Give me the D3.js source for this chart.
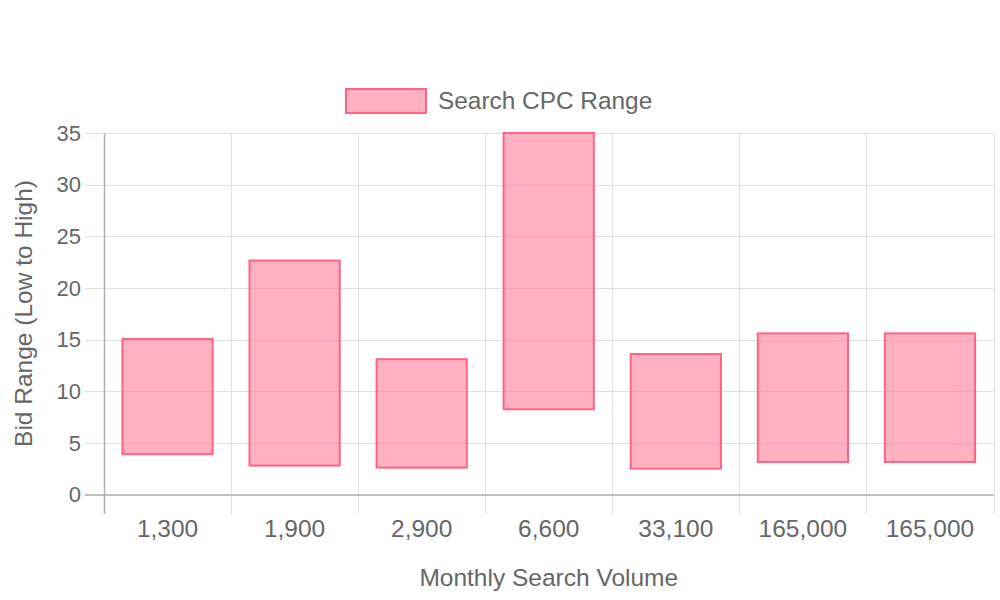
<!DOCTYPE html>
<html><head><meta charset="utf-8">
<script src="https://cdn.jsdelivr.net/npm/d3@7"></script>
<style>body{margin:0;background:#fff}svg{display:block}text{font-family:"Liberation Sans",Arial,sans-serif;fill:#666}</style>
</head><body><svg id="c" width="1000" height="600"></svg>
<script>
const categories = ["1,300","1,900","2,900","6,600","33,100","165,000","165,000"];
const lowBids = [3.9, 2.8, 2.6, 8.25, 2.5, 3.15, 3.15];
const highBids = [15.05, 22.65, 13.1, 35, 13.6, 15.6, 15.6];
const yTicks = [0,5,10,15,20,25,30,35];
const seriesName = "Search CPC Range";
const xTitle = "Monthly Search Volume";
const yTitle = "Bid Range (Low to High)";

(function(){
const svg = d3.select("#c");
const pL = 104, pR = 993.5, pT = 133, pB = 494.5;
const x = d3.scaleBand().domain(d3.range(categories.length)).range([pL, pR]).padding(0);
const y = d3.scaleLinear().domain([0, 35]).range([pB, pT]);
const grid = "#e0e0e0", axisC = "#b0b0b0";

// horizontal grid + ticks
svg.append("g").selectAll("line").data(yTicks).join("line")
  .attr("x1", 85).attr("x2", pR).attr("y1", d => Math.round(y(d))+0.5).attr("y2", d => Math.round(y(d))+0.5)
  .attr("stroke", grid).attr("stroke-width", 1);
// vertical grid lines at band boundaries
const bounds = d3.range(categories.length + 1).map(i => i < categories.length ? x(i) : pR);
svg.append("g").selectAll("line").data(bounds).join("line")
  .attr("x1", d => Math.round(d)+0.5).attr("x2", d => Math.round(d)+0.5).attr("y1", pT).attr("y2", 514)
  .attr("stroke", grid).attr("stroke-width", 1);
// axis lines
svg.append("line").attr("x1", pL+0.5).attr("x2", pL+0.5).attr("y1", pT).attr("y2", 514).attr("stroke", axisC).attr("stroke-width", 1.5);
svg.append("line").attr("x1", 85).attr("x2", pR).attr("y1", pB+0.5).attr("y2", pB+0.5).attr("stroke", axisC).attr("stroke-width", 1.5);

// y tick labels
svg.append("g").selectAll("text").data(yTicks).join("text")
  .attr("x", 81).attr("y", d => y(d)).attr("dy", "0.35em").attr("text-anchor", "end")
  .style("font-size", "22px").text(d => d);
// x tick labels
svg.append("g").selectAll("text").data(categories).join("text")
  .attr("x", (d,i) => x(i) + x.bandwidth()/2).attr("y", 537).attr("text-anchor", "middle")
  .style("font-size", "24.5px").text(d => d);

// bars
const bw = x.bandwidth() * 0.71;
svg.append("g").selectAll("rect").data(categories).join("rect")
  .attr("x", (d,i) => x(i) + (x.bandwidth()-bw)/2)
  .attr("width", bw)
  .attr("y", (d,i) => y(highBids[i]))
  .attr("height", (d,i) => y(lowBids[i]) - y(highBids[i]))
  .attr("fill", "rgba(255,99,132,0.5)").attr("stroke", "rgb(255,99,132)").attr("stroke-width", 2);

// legend
svg.append("rect").attr("x", 346).attr("y", 89).attr("width", 80).attr("height", 24)
  .attr("fill", "rgba(255,99,132,0.5)").attr("stroke", "rgb(255,99,132)").attr("stroke-width", 2);
svg.append("text").attr("x", 438).attr("y", 108.5).style("font-size", "24.4px").text(seriesName);

// axis titles
svg.append("text").attr("x", (pL+pR)/2).attr("y", 586).attr("text-anchor", "middle").style("font-size", "24.5px").text(xTitle);
svg.append("text").attr("transform", "translate(32,313.5) rotate(-90)").attr("text-anchor", "middle").style("font-size", "24.5px").text(yTitle);
})();
</script></body></html>
